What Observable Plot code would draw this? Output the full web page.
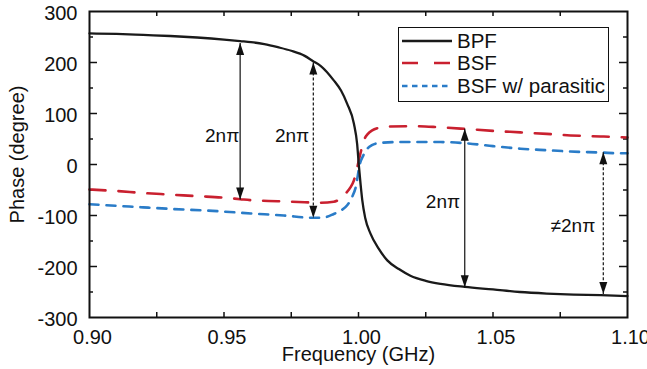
<!DOCTYPE html>
<html>
<head>
<meta charset="utf-8">
<script src="https://cdn.jsdelivr.net/npm/d3@7"></script>
<script src="https://cdn.jsdelivr.net/npm/@observablehq/plot@0.6"></script>
<style>
  html, body { margin: 0; padding: 0; background: white; }
  body { width: 647px; height: 369px; overflow: hidden; position: relative; font-family: "Liberation Sans", Arial, sans-serif; color: #111; }
  #legend { position: absolute; left: 398px; top: 27px; width: 209px; height: 73px; border: 1.5px solid #111; background: white; }
  #legend .row { position: absolute; left: 0; height: 22px; display: flex; align-items: center; font-size: 20.5px; line-height: 22px; }
  #legend svg { margin-left: 3px; margin-right: 5px; }
</style>
</head>
<body>
<div id="chart"></div>
<script>
// ---- data ----
const bpfFreq = [0.900,0.910,0.920,0.930,0.940,0.950,0.956,0.960,0.965,0.970,0.975,0.980,0.983,0.986,0.9908,0.9935,0.9958,0.9983,0.9995,1.0001,1.0008,1.0014,1.0025,1.0045,1.0075,1.0107,1.015,1.0193,1.025,1.0305,1.0395,1.050,1.060,1.070,1.080,1.090,1.100];
const bpfPhase = [257,256,254,252,249,245,242,240,236,230,223,213,203,193,165,145,119,80,40,0,-40,-70,-105,-136,-165,-188,-205,-218,-228,-234,-240,-245,-250,-253,-255,-256,-258];

const bsfFreq = [0.900,0.910,0.920,0.930,0.940,0.950,0.956,0.960,0.970,0.980,0.985,0.9908,0.993,0.9952,0.997,0.9983,0.9993,1.0001,1.001,1.002,1.0035,1.0051,1.0075,1.0107,1.0218,1.030,1.0392,1.050,1.0602,1.070,1.0788,1.090,1.100];
const bsfPhase = [-49,-52,-56,-59,-62,-65,-68,-70,-72,-74,-75,-73,-68,-57,-45,-31,-12,8,28,47,60,67,72,74.5,75,73,70,66,63,60,57,55,53];

const parFreq = [0.900,0.910,0.920,0.930,0.9475,0.960,0.9722,0.983,0.987,0.9908,0.9935,0.9958,0.9975,0.999,1.0005,1.0018,1.0033,1.005,1.0075,1.0144,1.0305,1.0392,1.050,1.0602,1.070,1.0788,1.090,1.0974,1.100];
const parPhase = [-78,-81,-84,-87,-91.5,-96,-100,-104.5,-104,-97,-90,-80,-65,-44,1,18,31,38,42,44,44,42,36,31,28,25.5,23.5,22,22];

// annotation arrows: frequency, top tip, bottom tip, dashed?
const arrowFreq   = [0.956, 0.9832, 1.0395, 1.091];
const arrowTop    = [238, 200, 70, 24];
const arrowBottom = [-68.5, -104.5, -240.5, -254];
const arrowDashed = [false, true, false, true];

// annotation labels
const labelText  = ["2nπ", "2nπ", "2nπ", "≠2nπ"];
const labelFreq  = [0.9493, 0.9753, 1.0314, 1.0797];
const labelPhase = [57, 57, -74, -120];

// axes ticks
const xTickLabels = [0.90, 0.95, 1.00, 1.05, 1.10];
const xTickMarks  = [0.925, 0.95, 0.975, 1.0, 1.025, 1.05, 1.075];
const yTickLabels = [-300, -200, -100, 0, 100, 200, 300];
const yMajor = [-200, -100, 0, 100, 200];
const yMinor = [-250, -150, -50, 50, 150, 250];

const seriesNames = ["BPF", "BSF", "BSF w/ parasitic"];

// ---- build tables ----
const bpf = bpfFreq.map((f, i) => ({f, p: bpfPhase[i]}));
const bsf = bsfFreq.map((f, i) => ({f, p: bsfPhase[i]}));
const par = parFreq.map((f, i) => ({f, p: parPhase[i]}));
const arrows = arrowFreq.map((f, i) => ({f, top: arrowTop[i], bottom: arrowBottom[i], dashed: arrowDashed[i]}));
const labels = labelText.map((t, i) => ({t, f: labelFreq[i], p: labelPhase[i]}));

const W = 647, H = 369, ML = 89, MR = 20, MT = 11, MB = 52;
const PW = W - ML - MR, PH = H - MT - MB;

const upHead = { draw(ctx) { ctx.moveTo(0, 0); ctx.lineTo(-4, 12); ctx.lineTo(4, 12); ctx.closePath(); } };
const downHead = { draw(ctx) { ctx.moveTo(0, 0); ctx.lineTo(-4, -12); ctx.lineTo(4, -12); ctx.closePath(); } };

const RED = "#c9202f", BLUE = "#2a7cc8", BLACK = "#1a1a1a";

const chart = Plot.plot({
  width: W, height: H,
  marginLeft: ML, marginRight: MR, marginTop: MT, marginBottom: MB,
  style: { fontFamily: "'Liberation Sans', Arial, sans-serif", fontSize: "20px", color: "#111", background: "white", overflow: "visible" },
  x: { domain: [0.9, 1.1] },
  y: { domain: [-300, 300] },
  marks: [
    Plot.axisX({ ticks: xTickLabels, tickFormat: d3.format(".2f"), tickSize: 0, tickPadding: 10, dx: 3, dy: 2, label: null, fontSize: 20 }),
    Plot.axisY({ ticks: yTickLabels, tickFormat: d => String(d), tickSize: 0, tickPadding: 12, dy: 2, label: null, fontSize: 20 }),
    Plot.tickX(xTickMarks, { x: d => d, insetTop: PH - 5, stroke: "#111", strokeWidth: 1.5 }),
    Plot.tickX(xTickMarks, { x: d => d, insetBottom: PH - 5, stroke: "#111", strokeWidth: 1.5 }),
    Plot.tickY(yMajor, { y: d => d, insetRight: PW - 8, stroke: "#111", strokeWidth: 1.5 }),
    Plot.tickY(yMinor, { y: d => d, insetRight: PW - 4, stroke: "#111", strokeWidth: 1.5 }),
    Plot.tickY(yMajor, { y: d => d, insetLeft: PW - 8, stroke: "#111", strokeWidth: 1.5 }),
    Plot.tickY(yMinor, { y: d => d, insetLeft: PW - 4, stroke: "#111", strokeWidth: 1.5 }),
    Plot.line(bsf, { x: "f", y: "p", stroke: RED, strokeWidth: 2.6, strokeDasharray: "16,13", curve: "monotone-x" }),
    Plot.line(par, { x: "f", y: "p", stroke: BLUE, strokeWidth: 2.6, strokeDasharray: "9,8", curve: "monotone-x" }),
    Plot.line(bpf, { x: "f", y: "p", stroke: BLACK, strokeWidth: 2.3, curve: "monotone-x" }),
    Plot.link(arrows.filter(d => !d.dashed), { x1: "f", x2: "f", y1: "top", y2: "bottom", stroke: "#111", strokeWidth: 1.2 }),
    Plot.link(arrows.filter(d => d.dashed), { x1: "f", x2: "f", y1: "top", y2: "bottom", stroke: "#111", strokeWidth: 1.2, strokeDasharray: "3,2" }),
    Plot.dot(arrows, { x: "f", y: "top", symbol: upHead, fill: "#111", stroke: "none" }),
    Plot.dot(arrows, { x: "f", y: "bottom", symbol: downHead, fill: "#111", stroke: "none" }),
    Plot.text(labels, { x: "f", y: "p", text: "t", fontSize: 19, fill: "#111" }),
    Plot.text(["Frequency (GHz)"], { frameAnchor: "bottom", textAnchor: "middle", lineAnchor: "middle", dy: 37, fontSize: 20, fill: "#111" }),
    Plot.text(["Phase (degree)"], { frameAnchor: "left", textAnchor: "middle", lineAnchor: "middle", rotate: -90, dx: -72, dy: -10, fontSize: 20, fill: "#111" }),
    Plot.frame({ stroke: "#111", strokeWidth: 2 })
  ]
});
document.getElementById("chart").appendChild(chart);

// legend
const legend = document.createElement("div");
legend.id = "legend";
const styles = [
  { stroke: BLACK, dash: null, w: 2.3 },
  { stroke: RED, dash: "16,16", w: 2.6 },
  { stroke: BLUE, dash: "5.5,4.5", w: 2.6 }
];
const rowTops = [2, 24, 47];
seriesNames.forEach((name, i) => {
  const row = document.createElement("div");
  row.className = "row";
  row.style.top = rowTops[i] + "px";
  const s = styles[i];
  row.innerHTML = `<svg width="50" height="10"><line x1="0" x2="50" y1="5" y2="5" stroke="${s.stroke}" stroke-width="${s.w}" ${s.dash ? `stroke-dasharray="${s.dash}"` : ""}/></svg><span>${name}</span>`;
  legend.appendChild(row);
});
document.body.appendChild(legend);
</script>
</body>
</html>
